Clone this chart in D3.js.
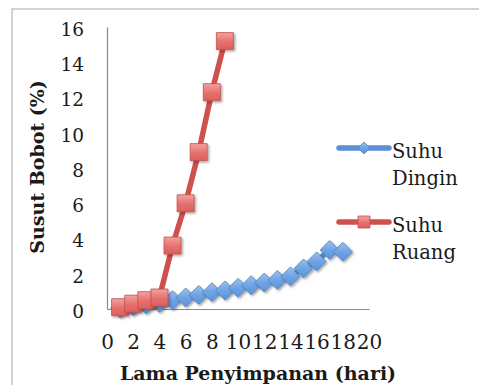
<!DOCTYPE html>
<html>
<head>
<meta charset="utf-8">
<script src="https://cdn.jsdelivr.net/npm/d3@7"></script>
<style>
  html, body { margin: 0; padding: 0; background: #fff; }
  svg { display: block; }
  text { font-family: "DejaVu Serif", serif; fill: #1a1a1a; }
</style>
</head>
<body>
<svg id="chart" width="479" height="385"></svg>
<script>
// Susut bobot (%) per hari penyimpanan
const hariDingin = [1, 2, 3, 4, 5, 6, 7, 8, 9, 10, 11, 12, 13, 14, 15, 16, 17, 18];
const suhuDingin = [0.05, 0.15, 0.25, 0.35, 0.5, 0.65, 0.8, 0.95, 1.05, 1.2, 1.35, 1.5, 1.65, 1.85, 2.3, 2.7, 3.35, 3.25];
const hariRuang = [1, 2, 3, 4, 5, 6, 7, 8, 9];
const suhuRuang = [0.1, 0.3, 0.5, 0.65, 3.6, 6.0, 8.9, 12.3, 15.2];
const xTicks = [0, 2, 4, 6, 8, 10, 12, 14, 16, 18, 20];
const yTicks = [0, 2, 4, 6, 8, 10, 12, 14, 16];
const seriesNames = ["Suhu Dingin", "Suhu Ruang"];

const svg = d3.select("#chart");
const plot = { left: 107, right: 369, top: 27, bottom: 309 };

const x = d3.scaleLinear().domain([0, 20]).range([plot.left, plot.right]);
const y = d3.scaleLinear().domain([0, 16]).range([plot.bottom, plot.top]);

const defs = svg.append("defs");
const shadow = defs.append("filter").attr("id", "shadow")
  .attr("x", "-50%").attr("y", "-50%").attr("width", "200%").attr("height", "200%");
shadow.append("feDropShadow").attr("dx", 1.5).attr("dy", 1.5)
  .attr("stdDeviation", 1.2).attr("flood-color", "#000").attr("flood-opacity", 0.35);

const gradRed = defs.append("linearGradient").attr("id", "gRed")
  .attr("x1", 0).attr("y1", 0).attr("x2", 0).attr("y2", 1);
gradRed.append("stop").attr("offset", "0%").attr("stop-color", "#f2a2a0");
gradRed.append("stop").attr("offset", "55%").attr("stop-color", "#e6706d");
gradRed.append("stop").attr("offset", "100%").attr("stop-color", "#dc5f5c");

const gradBlue = defs.append("linearGradient").attr("id", "gBlue")
  .attr("x1", 0).attr("y1", 0).attr("x2", 0).attr("y2", 1);
gradBlue.append("stop").attr("offset", "0%").attr("stop-color", "#9cc2ef");
gradBlue.append("stop").attr("offset", "50%").attr("stop-color", "#6fa3e4");
gradBlue.append("stop").attr("offset", "100%").attr("stop-color", "#5c93da");

// chart frame
svg.append("rect").attr("x", 12).attr("y", 9).attr("width", 480).attr("height", 400)
  .attr("fill", "none").attr("stroke", "#c4c4c4").attr("stroke-width", 1.5);

// axes
const axisColor = "#8a8a8a";
const gx = svg.append("g").attr("transform", `translate(0,${plot.bottom})`)
  .call(d3.axisBottom(x).tickValues(xTicks).tickSize(0).tickPadding(26));
const gy = svg.append("g").attr("transform", `translate(${plot.left},0)`)
  .call(d3.axisLeft(y).tickValues(yTicks).tickSize(0).tickPadding(23));
[gx, gy].forEach(g => {
  g.select(".domain").attr("stroke", axisColor).attr("stroke-width", 1.2);
  g.selectAll("text").attr("font-family", "DejaVu Serif").attr("fill", "#1a1a1a");
});
gx.selectAll("text").attr("font-size", 20).attr("dy", "0.71em");
gy.selectAll("text").attr("font-size", 18.5).attr("dy", "0.45em");

// axis titles
svg.append("text").attr("x", 258).attr("y", 380).attr("text-anchor", "middle")
  .attr("font-size", 19).attr("font-weight", "bold").text("Lama Penyimpanan (hari)");
svg.append("text").attr("transform", "translate(44,167) rotate(-90)").attr("text-anchor", "middle")
  .attr("font-size", 19).attr("font-weight", "bold").text("Susut Bobot (%)");

const line = d3.line().x(d => x(d[0])).y(d => y(d[1]));

const diamond = s => `M0,${-s}L${s},0L0,${s}L${-s},0Z`;
const square = s => `M${-s},${-s}H${s}V${s}H${-s}Z`;

function drawSeries(days, vals, color, markerPath, fill, stroke) {
  const pts = days.map((d, i) => [d, vals[i]]);
  const g = svg.append("g");
  g.append("path").datum(pts).attr("d", line).attr("fill", "none")
    .attr("stroke", color).attr("stroke-width", 5.5)
    .attr("stroke-linejoin", "round").attr("stroke-linecap", "round");
  g.selectAll("path.m").data(pts).join("path").attr("class", "m")
    .attr("transform", d => `translate(${x(d[0])},${y(d[1])})`)
    .attr("d", markerPath).attr("fill", fill).attr("stroke", stroke)
    .attr("stroke-width", 0.8).attr("filter", "url(#shadow)");
}

drawSeries(hariDingin, suhuDingin, "#5b8fd6", diamond(9.5), "url(#gBlue)", "#4f81bd");
drawSeries(hariRuang, suhuRuang, "#d0504d", square(8.5), "url(#gRed)", "#c0504d");

// legend
const legend = [
  { name: seriesNames[0], color: "#5b8fd6", marker: diamond(6), fill: "url(#gBlue)", stroke: "#4f81bd", y: 148, lines: ["Suhu", "Dingin"] },
  { name: seriesNames[1], color: "#d0504d", marker: square(6), fill: "url(#gRed)", stroke: "#c0504d", y: 222, lines: ["Suhu", "Ruang"] }
];
const lg = svg.append("g").selectAll("g").data(legend).join("g");
lg.append("line").attr("x1", 339).attr("x2", 389).attr("y1", d => d.y).attr("y2", d => d.y)
  .attr("stroke", d => d.color).attr("stroke-width", 5.5).attr("stroke-linecap", "round");
lg.append("path").attr("transform", d => `translate(364,${d.y})`).attr("d", d => d.marker)
  .attr("fill", d => d.fill).attr("stroke", d => d.stroke).attr("stroke-width", 0.8);
lg.append("text").attr("x", 392).attr("y", d => d.y + 10).attr("font-size", 19.5)
  .selectAll("tspan").data(d => d.lines).join("tspan")
  .attr("x", 392).attr("dy", (d, i) => i === 0 ? 0 : 26.5).text(d => d);
</script>
</body>
</html>
